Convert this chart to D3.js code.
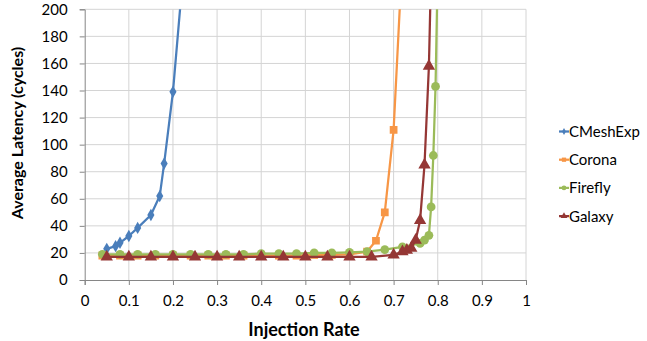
<!DOCTYPE html>
<html><head><meta charset="utf-8">
<script src="https://cdn.jsdelivr.net/npm/d3@7"></script>
<style>body{margin:0;background:#fff}svg{display:block}text{font-family:Lato,"Open Sans",sans-serif}</style>
</head><body><svg id="c" width="647" height="341"></svg>
<script>
const seriesNames = ["CMeshExp","Corona","Firefly","Galaxy"];
const colors = ["#4a7ebb","#f79646","#9bbb59","#953735"];
const xTicks = [0,0.1,0.2,0.3,0.4,0.5,0.6,0.7,0.8,0.9,1];
const yTicks = [0,20,40,60,80,100,120,140,160,180,200];

const cmeshX = [0.05,0.07,0.08,0.1,0.12,0.15,0.17,0.18,0.2,0.22];
const cmeshY = [23,25,27.5,32.5,38.5,48,62,86,139,215];

const coronaX = [0.04,0.08,0.12,0.16,0.2,0.24,0.28,0.32,0.36,0.4,0.44,0.48,0.52,0.56,0.6,0.64,0.66,0.68,0.7,0.72];
const coronaY = [18,18,18,18,18,18,18,18,18,18,18,18,18.5,18.5,19,21,29,50,111,240];

const fireflyX = [0.04,0.08,0.12,0.16,0.2,0.24,0.28,0.32,0.36,0.4,0.44,0.48,0.52,0.56,0.6,0.64,0.68,0.72,0.76,0.77,0.78,0.785,0.79,0.795,0.8];
const fireflyY = [19,19,19,19,19,19,19,19,19,19.5,19.5,19.5,20,20,20.5,21,22.5,24.5,27,29.5,33,54,92,143,230];

const galaxyX = [0.05,0.1,0.15,0.2,0.25,0.3,0.35,0.4,0.45,0.5,0.55,0.6,0.65,0.7,0.72,0.73,0.74,0.75,0.76,0.77,0.78,0.785];
const galaxyY = [17,17,17,17,17,17,17,17,17,17,17,17,17,18.5,21,22,23.5,29.5,44,85,158,230];

const series = [
  {name:seriesNames[0], color:colors[0], shape:"diamond", pts:cmeshX.map((x,i)=>[x,cmeshY[i]])},
  {name:seriesNames[1], color:colors[1], shape:"square", pts:coronaX.map((x,i)=>[x,coronaY[i]])},
  {name:seriesNames[2], color:colors[2], shape:"circle", pts:fireflyX.map((x,i)=>[x,fireflyY[i]])},
  {name:seriesNames[3], color:colors[3], shape:"triangle", pts:galaxyX.map((x,i)=>[x,galaxyY[i]])}
];

const svg = d3.select("#c");
const L=84.7, R=526, T=9.3, B=280;
const x = d3.scaleLinear().domain([0,1]).range([L,R]);
const y = d3.scaleLinear().domain([0,200]).range([B,T]);

svg.append("defs").append("clipPath").attr("id","clip")
  .append("rect").attr("x",L-6).attr("y",T).attr("width",R-L+12).attr("height",B-T+6);

// gridlines
svg.append("g").selectAll("line").data(yTicks.filter(d=>d>0)).join("line")
  .attr("x1",L).attr("x2",R).attr("y1",d=>y(d)).attr("y2",d=>y(d))
  .attr("stroke","#d4d4d4").attr("stroke-width",1);
svg.append("g").selectAll("line").data(xTicks.filter(d=>d>0)).join("line")
  .attr("y1",T).attr("y2",B).attr("x1",d=>x(d)).attr("x2",d=>x(d))
  .attr("stroke","#d4d4d4").attr("stroke-width",1);

// axes
const xAxis = svg.append("g").attr("transform",`translate(0,${B})`)
  .call(d3.axisBottom(x).tickValues(xTicks).tickFormat(d=>String(d)).tickSize(5).tickPadding(10));
const yAxis = svg.append("g").attr("transform",`translate(${L},0)`)
  .call(d3.axisLeft(y).tickValues(yTicks).tickSize(5).tickPadding(12));
[xAxis,yAxis].forEach(a=>{
  a.select(".domain").attr("stroke","#868686");
  a.selectAll(".tick line").attr("stroke","#868686");
  a.selectAll("text").attr("font-size",15).attr("fill","#000");
});

// series
const sym = {diamond:d3.symbolDiamond, square:d3.symbolSquare, circle:d3.symbolCircle, triangle:d3.symbolTriangle};
const sizes = {diamond:44, square:60, circle:60, triangle:66};
const plot = svg.append("g").attr("clip-path","url(#clip)");
const line = d3.line().x(d=>x(d[0])).y(d=>y(d[1]));
series.forEach(s=>{
  const g = plot.append("g");
  g.append("path").attr("d",line(s.pts)).attr("fill","none")
    .attr("stroke",s.color).attr("stroke-width",2.25).attr("stroke-linejoin","round");
  g.selectAll("path.m").data(s.pts).join("path").attr("class","m")
    .attr("transform",d=>`translate(${x(d[0])},${y(d[1])})`)
    .attr("d",d3.symbol().type(sym[s.shape]).size(sizes[s.shape]))
    .attr("fill",s.color);
});

// legend
const lg = svg.append("g");
series.forEach((s,i)=>{
  const yy = 131.5 + i*28.2;
  lg.append("line").attr("x1",559).attr("x2",569).attr("y1",yy).attr("y2",yy)
    .attr("stroke",s.color).attr("stroke-width",2.25);
  lg.append("path").attr("transform",`translate(564,${yy})`)
    .attr("d",d3.symbol().type(sym[s.shape]).size(sizes[s.shape]*0.3)).attr("fill",s.color);
  lg.append("text").attr("x",569).attr("y",yy).attr("dy","0.36em")
    .attr("font-size",15).text(s.name);
});

// axis titles
svg.append("text").attr("x",304).attr("y",336).attr("text-anchor","middle")
  .attr("font-size",18).attr("font-weight","bold").text("Injection Rate");
svg.append("text").attr("transform","translate(23,133) rotate(-90)").attr("text-anchor","middle")
  .attr("font-size",16).attr("font-weight","bold").text("Average Latency (cycles)");
</script></body></html>
